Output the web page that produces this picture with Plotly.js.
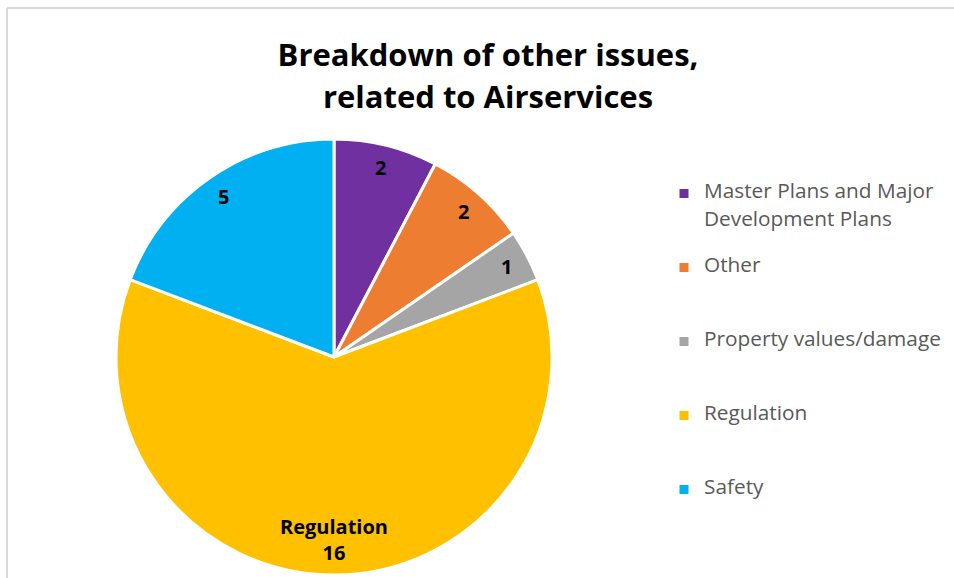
<!DOCTYPE html>
<html><head><meta charset="utf-8">
<script src="https://cdn.plot.ly/plotly-3.0.1.min.js"></script>
<style>html,body{margin:0;padding:0;background:#fff;}#chart{width:954px;height:578px;}</style>
</head><body><div id="chart"></div>
<script>
// ---- data ----
const categories = ['Master Plans and Major Development Plans', 'Other', 'Property values/damage', 'Regulation', 'Safety'];
const legendLines = [['Master Plans and Major', 'Development Plans'], ['Other'], ['Property values/damage'], ['Regulation'], ['Safety']];
const counts = [2, 2, 1, 16, 5];
const showNameInLabel = [false, false, false, true, false];
const sliceColors = ['#7030A0', '#ED7D31', '#A5A5A5', '#FFC000', '#00B0F0'];
const titleLines = ['Breakdown of other issues,', 'related to Airservices'];

// ---- layout helpers ----
const W = 954, H = 578;
const FONT = '"Open Sans", Lato, sans-serif';
const pieLeft = 116, pieRight = 552, pieTop = 139, pieBottom = 575;
const cx = (pieLeft + pieRight) / 2, cy = (pieTop + pieBottom) / 2;
const R = Math.min(pieRight - pieLeft, pieBottom - pieTop) / 2;
const labelSize = 20, labelLineH = 26, labelEdgeGap = 10;

// legend: each entry occupies 5 thin lines (text on lines 1 and 3) for the spacing of the original
const LEG_SLOTS = 5;
const legendLabels = legendLines.map(lines => {
  const slots = [];
  for (let k = 0; k < LEG_SLOTS; k++) slots.push('&nbsp;');
  lines.forEach((t, j) => { slots[j * 2] = '<span style="font-size:20.8px">' + t + '</span>'; });
  return slots.join('<br>');
});

const total = counts.reduce((a, b) => a + b, 0);
let cum = 0;
const annotations = counts.map((v, i) => {
  const mid = (cum + v / 2) / total * 2 * Math.PI;
  cum += v;
  const nLines = showNameInLabel[i] ? 2 : 1;
  const r = R - labelEdgeGap - nLines * labelLineH / 2;
  const px = cx + r * Math.sin(mid);
  const py = cy - r * Math.cos(mid);
  return {
    xref: 'paper', yref: 'paper', x: px / W, y: 1 - py / H,
    xanchor: 'center', yanchor: 'middle', showarrow: false,
    text: '<b>' + (showNameInLabel[i] ? categories[i] + '<br>' : '') + v + '</b>',
    font: {family: FONT, size: labelSize, color: '#000000'}
  };
});

const trace = {
  type: 'pie',
  labels: legendLabels,
  values: counts,
  sort: false,
  direction: 'clockwise',
  rotation: 0,
  textinfo: 'none',
  hoverinfo: 'label+value',
  marker: {colors: sliceColors, line: {color: '#ffffff', width: 3}},
  domain: {x: [pieLeft / W, pieRight / W], y: [1 - pieBottom / H, 1 - pieTop / H]}
};

const layout = {
  width: W, height: H,
  margin: {l: 0, r: 0, t: 0, b: 0},
  paper_bgcolor: '#ffffff',
  title: {
    text: titleLines.map(t => '<span style="font-size:31px">' + t + '</span>').join('<br>'),
    x: 488 / W, xanchor: 'center', xref: 'paper',
    y: 1 - 66 / H, yanchor: 'top', yref: 'container',
    font: {family: FONT, size: 32, color: '#000000', weight: 'bold'}
  },
  showlegend: true,
  legend: {
    x: 664 / W, xanchor: 'left', y: 1 - 180 / H, yanchor: 'top',
    valign: 'top', bgcolor: 'rgba(0,0,0,0)',
    font: {family: FONT, size: 10.92, color: '#595959'}
  },
  annotations: annotations,
  shapes: [
    {type: 'line', xref: 'paper', yref: 'paper', x0: 7 / W, x1: 1, y0: 1 - 8 / H, y1: 1 - 8 / H, line: {color: '#d9d9d9', width: 2}},
    {type: 'line', xref: 'paper', yref: 'paper', x0: 7 / W, x1: 7 / W, y0: 1 - 8 / H, y1: 0, line: {color: '#d9d9d9', width: 2}}
  ]
};

Plotly.newPlot('chart', [trace], layout, {displayModeBar: false, staticPlot: true});
</script>
</body></html>
